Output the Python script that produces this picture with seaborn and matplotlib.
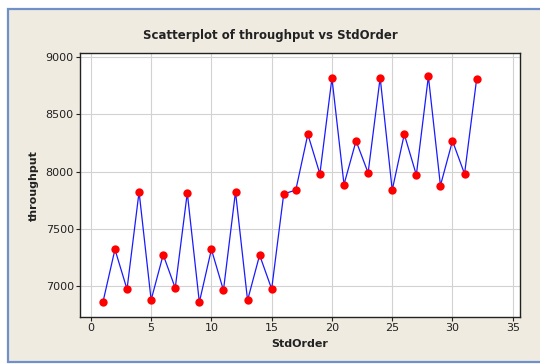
import matplotlib
matplotlib.use("Agg")
import matplotlib.pyplot as plt
from matplotlib.patches import Rectangle
import seaborn as sns
import pandas as pd

# Run order of the 2^5 factorial experiment and the measured throughput
std_order = list(range(1, 33))
throughput = [6855, 7318, 6969, 7822, 6875, 7271, 6980, 7813,
              6855, 7318, 6960, 7822, 6872, 7268, 6971, 7804,
              7837, 8326, 7979, 8818, 7886, 8268, 7988, 8822,
              7837, 8326, 7970, 8833, 7877, 8268, 7979, 8807]
x_ticks = [0, 5, 10, 15, 20, 25, 30, 35]
y_ticks = [7000, 7500, 8000, 8500, 9000]

df = pd.DataFrame({"StdOrder": std_order, "throughput": throughput})

sns.set_theme(style="white")
plt.rcParams["font.family"] = ["DejaVu Sans"]

W, H = 540, 364
fig = plt.figure(figsize=(W / 100, H / 100), dpi=100, facecolor="white")

# Window-style panel behind the graph
panel = Rectangle((8 / W, 2.5 / H), 1.0, (H - 11.5) / H, transform=fig.transFigure,
                  facecolor="#efebe1", edgecolor="#6f90c8", linewidth=1.6, zorder=-10)
fig.patches.append(panel)

ax = fig.add_axes([80 / W, 1 - 317 / H, 440 / W, (317 - 53.3) / H])
ax.set_zorder(5)
ax.set_facecolor("white")

sns.lineplot(data=df, x="StdOrder", y="throughput", ax=ax, color="#1a1aff",
             linewidth=0.9, zorder=3)
sns.scatterplot(data=df, x="StdOrder", y="throughput", ax=ax, color="#ff0000",
                s=36, edgecolor="#ff0000", linewidth=0, zorder=4)

ax.set_xlim(-0.9, 35.6)
ax.set_ylim(6726, 9035)
ax.set_xticks(x_ticks)
ax.set_yticks(y_ticks)
ax.grid(True, color="#d2d2d2", linewidth=0.8)
ax.set_axisbelow(True)

for s in ax.spines.values():
    s.set_color("#222222")
    s.set_linewidth(1.0)

ax.tick_params(axis="both", which="major", direction="out", length=3, width=0.8,
               color="#222222", labelsize=8, labelcolor="#222222", pad=1.5,
               bottom=True, left=True)

ax.set_xlabel("StdOrder", fontsize=8, fontweight="bold", color="#222222", labelpad=4)
ax.set_ylabel("throughput", fontsize=8, fontweight="bold", color="#222222", labelpad=5)

fig.text(0.5, 1 - 36 / H, "Scatterplot of throughput vs StdOrder", ha="center",
         va="center", fontsize=8.5, fontweight="bold", color="#222222")

fig.savefig("out.png", dpi=100, facecolor=fig.get_facecolor())
